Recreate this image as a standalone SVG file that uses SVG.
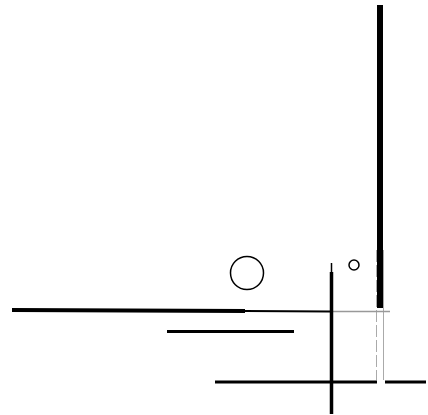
<svg xmlns="http://www.w3.org/2000/svg" width="428" height="415" viewBox="0 0 428 415">
<style>
.k{stroke:#000;fill:none;stroke-linecap:butt}
.g{stroke:#aaa;fill:none;stroke-width:1}
</style>
<rect width="428" height="415" fill="#fff"/>
<g id="shapes">
<line class="k" x1="380" y1="5" x2="380" y2="308" stroke-width="6"/>
<line class="g" x1="376.5" y1="250" x2="376.5" y2="380" stroke-dasharray="12 3"/>
<line class="g" x1="383.5" y1="250" x2="383.5" y2="380"/>
<line class="k" x1="12" y1="310" x2="245" y2="311" stroke-width="4"/>
<line class="k" x1="245" y1="311" x2="330" y2="311.5" stroke-width="2"/>
<line x1="330" y1="311.5" x2="390" y2="311.5" stroke="#999" stroke-width="1.5"/>
<line class="k" x1="167" y1="331.5" x2="294" y2="331.5" stroke-width="3"/>
<line class="k" x1="331.5" y1="263" x2="331.5" y2="272" stroke-width="1.5"/>
<line class="k" x1="331.5" y1="272" x2="331.5" y2="414" stroke-width="3.5"/>
<line class="k" x1="215" y1="382" x2="377" y2="382" stroke-width="3"/>
<line class="k" x1="385" y1="382" x2="426" y2="382" stroke-width="3"/>
<circle class="k" cx="247" cy="273" r="16.5" stroke-width="1.5"/>
<circle class="k" cx="354" cy="265" r="5" stroke-width="1.5"/>
</g>
</svg>
